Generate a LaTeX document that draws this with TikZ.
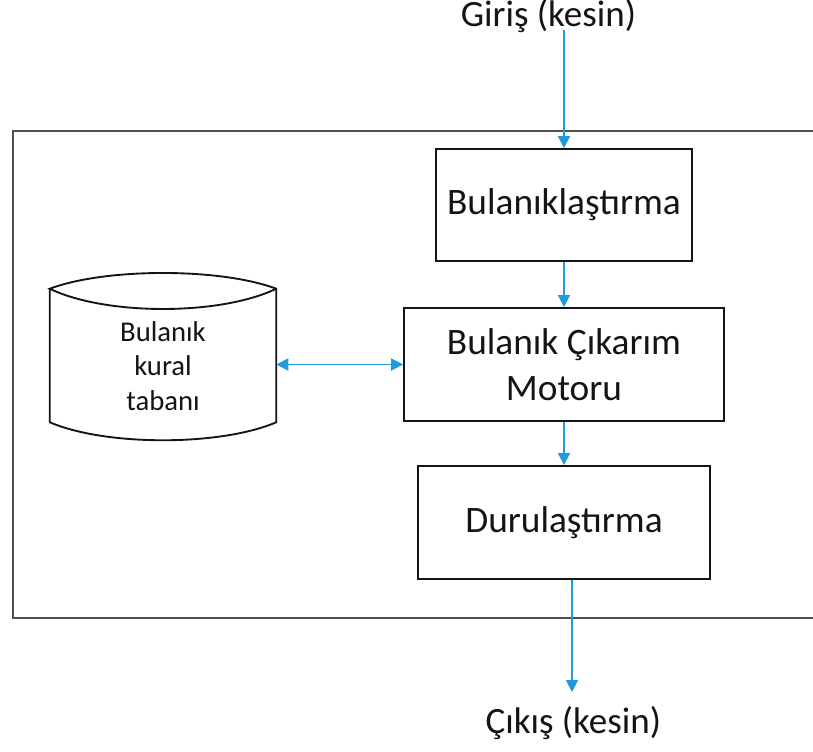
\documentclass[tikz,border=0pt]{standalone}
\usepackage{fontspec}
\setmainfont{Carlito}
\usetikzlibrary{arrows.meta}
\definecolor{flowblue}{RGB}{30,155,222}
\definecolor{ink}{RGB}{20,20,20}
\definecolor{framegray}{RGB}{80,80,80}
\begin{document}
\begin{tikzpicture}[x=0.75pt,y=-0.75pt,
  stage/.style={draw=ink, line width=1.4pt, text=ink, align=center, inner sep=0pt,
    font=\fontsize{28}{34.5}\selectfont},
  ioText/.style={text=ink, inner sep=0pt, font=\fontsize{27.8}{34.5}\selectfont},
  kbText/.style={text=ink, align=center, inner sep=0pt, font=\fontsize{21.5}{26}\selectfont},
  outline/.style={draw=ink, line width=1.4pt, line join=miter},
  frameline/.style={draw=framegray, line width=1.4pt},
  flow/.style={draw=flowblue, line width=1.4pt, -{Triangle[width=9pt,length=9pt]}},
  twoway/.style={draw=flowblue, line width=1.4pt,
    {Triangle[width=9pt,length=9pt]}-{Triangle[width=9pt,length=9pt]}}]
\useasboundingbox (0,0) rectangle (813,752);

% system frame, open to the right
\draw[frameline] (813,131) -- (13,131) -- (13,618) -- (813,618);

% processing stages
\node[stage, minimum width=192pt, minimum height=84pt] (fuz) at (564,205) {Bulanıklaştırma};
\node[stage, minimum width=240pt, minimum height=84.75pt] (motor) at (564,364.5) {Bulanık Çıkarım\\Motoru};
\node[stage, minimum width=219pt, minimum height=84.75pt] (defuz) at (564,522.5) {Durulaştırma};

% rule base drawn as a cylinder
\node[minimum width=169.5pt, minimum height=99.75pt, inner sep=0pt] (kbbody) at (163,355.5) {};
\draw[outline] (kbbody.north west) -- (kbbody.south west)
  .. controls +(56,24) and +(-56,24) .. (kbbody.south east)
  -- (kbbody.north east)
  .. controls +(-56,-21) and +(56,-21) .. (kbbody.north west)
  .. controls +(56,27) and +(-56,27) .. (kbbody.north east);
\node[kbText] (kb) at (163,366) {Bulanık\\kural\\tabanı};

% input and output labels
\node[ioText, anchor=base] (in) at (548.4,26.7) {Giriş (kesin)};
\node[ioText, anchor=base] (out) at (573.3,733.3) {Çıkış (kesin)};
\coordinate (inarrow) at (564,30);
\coordinate (outarrow) at (572,692);

% connectors
\draw[flow] (inarrow) -- (inarrow |- fuz.north);
\draw[flow] (fuz.south) -- (motor.north);
\draw[flow] (motor.south) -- (defuz.north);
\draw[flow] (outarrow |- defuz.south) -- (outarrow);
\draw[twoway] (motor.west -| kbbody.east) -- (motor.west);
\end{tikzpicture}
\end{document}
